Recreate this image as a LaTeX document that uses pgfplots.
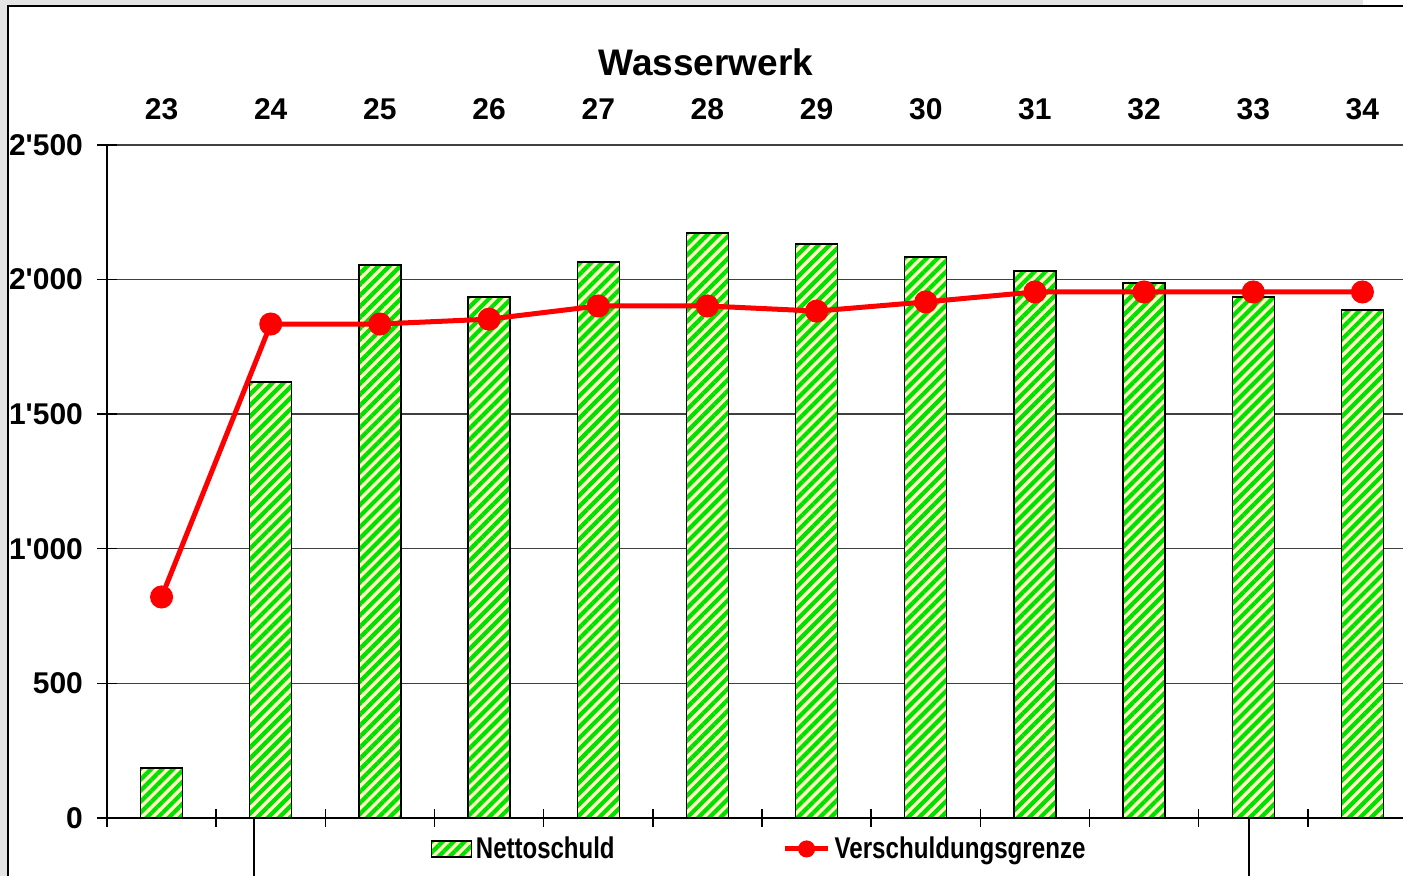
\documentclass[border=0pt]{standalone}
\usepackage{pgfplots}
\pgfplotsset{compat=1.18}
\usepackage{fontspec}
\setmainfont{Liberation Sans}
\usepackage{graphicx}
\usetikzlibrary{patterns.meta}
\definecolor{barGreen}{HTML}{00E000}
\definecolor{barYellow}{HTML}{FFFFC0}
\definecolor{lineRed}{HTML}{FF0000}
\definecolor{frameGray}{HTML}{E4E4E4}
\pgfplotsset{
  barlegend/.style={legend image code/.code={\draw[##1] (0pt,-4pt) rectangle (20pt,4pt);}},
  linelegend/.style={legend image code/.code={\draw[mark repeat=2,mark phase=2,##1, mark size=3pt] plot coordinates {(0pt,0pt)(10.75pt,0pt)(21.5pt,0pt)};}},
}
\begin{document}
\begin{tikzpicture}
\fill[frameGray] (0pt,0pt) rectangle (701.5pt,438pt);
\fill[white] (4pt,0pt) rectangle (701.5pt,435pt);
\fill[white] (681.5pt,435pt) rectangle (701.5pt,438pt);
\draw[black, line width=0.8pt] (4pt,0pt) -- (4pt,435pt) -- (701.5pt,435pt);
\begin{axis}[
  at={(53.5pt,29pt)}, anchor=south west,
  scale only axis, width=655pt, height=336.5pt,
  xmin=-0.5, xmax=11.5, ymin=0, ymax=2500,
  axis line style={draw=none},
  xtick={0,1,2,3,4,5,6,7,8,9,10,11},
  xticklabels={23,24,25,26,27,28,29,30,31,32,33,34},
  xticklabel pos=right, xtick pos=left,
  major x tick style={draw=none},
  minor xtick={-0.5,0.5,...,11.5},
  minor x tick style={black, line width=0.7pt},
  minor tick length=9pt,
  ytick={0,500,1000,1500,2000,2500},
  ytick pos=left,
  y tick style={black, line width=0.7pt},
  major tick length=10pt,
  tick align=center,
  ymajorgrids, major grid style={black!75, line width=0.7pt},
  tick label style={font=\bfseries\fontsize{15}{18}\selectfont},
  /pgf/number format/assume math mode=true,
  scaled y ticks=false,
  yticklabel style={/pgf/number format/1000 sep={\textquotesingle}, xshift=-3.5pt},
  xticklabel style={yshift=4pt},
  clip=false,
  legend columns=2,
  legend style={at={(0.4985,-0.046)}, anchor=center, draw=none, fill=none,
    font=\bfseries\fontsize{15}{18}\selectfont},
]
\addplot[ybar, bar width=21pt, draw=black, line width=0.7pt, fill=barYellow,
  postaction={pattern={Lines[angle=45,distance=3.9pt,line width=2.1pt]}, pattern color=barGreen},
  barlegend]
  coordinates {(0,186) (1,1620) (2,2054) (3,1935) (4,2065) (5,2173) (6,2132) (7,2084) (8,2032) (9,1987) (10,1935) (11,1887)};
\addlegendentry{\scalebox{0.8}[1]{Nettoschuld}\hspace*{82pt}}
\addplot[lineRed, line width=2.5pt, mark=*, mark size=4.5pt, mark options={solid, fill=lineRed, draw=lineRed},
  linelegend]
  coordinates {(0,821) (1,1835) (2,1835) (3,1853) (4,1902) (5,1902) (6,1883) (7,1917) (8,1954) (9,1954) (10,1954) (11,1954)};
\addlegendentry{\scalebox{0.805}[1]{Verschuldungsgrenze}}
\draw[black, line width=0.8pt] (rel axis cs:0,0) -- (rel axis cs:1,0);
\draw[black, line width=0.8pt] (rel axis cs:0,0) -- (rel axis cs:0,1);
\end{axis}
\draw[black, line width=0.8pt] (127pt,29pt) -- (127pt,0pt);
\draw[black, line width=0.8pt] (624.5pt,29pt) -- (624.5pt,0pt);
\node[font=\bfseries\fontsize{18.5}{22}\selectfont] at (353pt,407pt) {Wasserwerk};
\pgfresetboundingbox
\useasboundingbox (0pt,0pt) rectangle (701.5pt,438pt);
\end{tikzpicture}
\end{document}
